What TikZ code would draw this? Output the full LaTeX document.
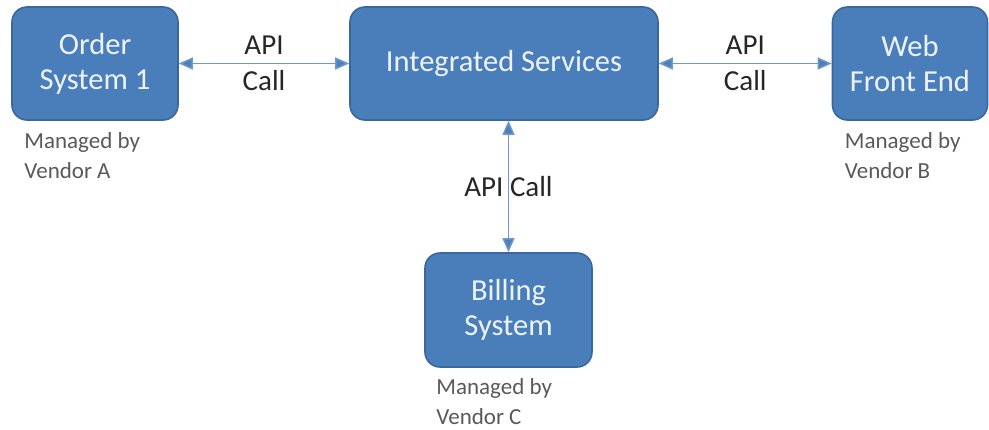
\documentclass[tikz,border=0pt]{standalone}
\usepackage{fontspec}
\setmainfont{Carlito}
\usetikzlibrary{arrows.meta,positioning}

\definecolor{boxblue}{HTML}{4A7EBB}
\definecolor{boxedge}{HTML}{3A679C}
\definecolor{linkblue}{HTML}{6C98CB}
\definecolor{tipblue}{HTML}{4F7FB8}
\definecolor{boxtext}{HTML}{EEF3FB}
\definecolor{notegray}{HTML}{595959}

\tikzset{
  sysbox/.style={draw=boxedge, line width=1.6pt, fill=boxblue, rounded corners=15pt,
    text=boxtext, align=center, font=\fontsize{30.5}{35}\selectfont, inner sep=0pt},
  vendor/.style={anchor=north west, inner sep=0pt, align=left, text=notegray,
    font=\fontsize{23}{30}\selectfont},
  apicall/.style={inner sep=0pt, align=center, text=black!85,
    font=\fontsize{29}{36}\selectfont},
  link/.style={draw=linkblue, line width=1.5pt,
    {Triangle[length=14pt,width=12pt,fill=tipblue]}-{Triangle[length=14pt,width=12pt,fill=tipblue]}}
}

\begin{document}
\begin{tikzpicture}[x=1pt,y=-1pt]
  \useasboundingbox (0,0) rectangle (989,429);

  \node[sysbox, minimum width=166pt, minimum height=113pt] (order) at (95,63.5) {Order\\System 1};
  \node[sysbox, minimum width=308pt, minimum height=113pt] (integ) at (504,63.5) {Integrated Services};
  \node[sysbox, minimum width=155pt, minimum height=113pt] (web) at (910,63.5) {Web\\Front End};
  \node[sysbox, minimum width=167pt, minimum height=114pt] (bill) at (508.5,310) {Billing\\System};

  \node[vendor] (vendA) at ([xshift=13pt,yshift=-12pt]order.south west) {Managed by\\Vendor A};
  \node[vendor] (vendB) at ([xshift=13pt,yshift=-12pt]web.south west) {Managed by\\Vendor B};
  \node[vendor] (vendC) at ([xshift=12pt,yshift=-11pt]bill.south west) {Managed by\\Vendor C};

  \draw[link] (order.east) -- node[apicall] (callA) {API\\Call} (integ.west);
  \draw[link] (integ.east) -- node[apicall] (callB) {API\\Call} (web.west);
  \draw[link] (integ.south -| bill.north) -- node[apicall] (callC) {API Call} (bill.north);

\end{tikzpicture}
\end{document}
